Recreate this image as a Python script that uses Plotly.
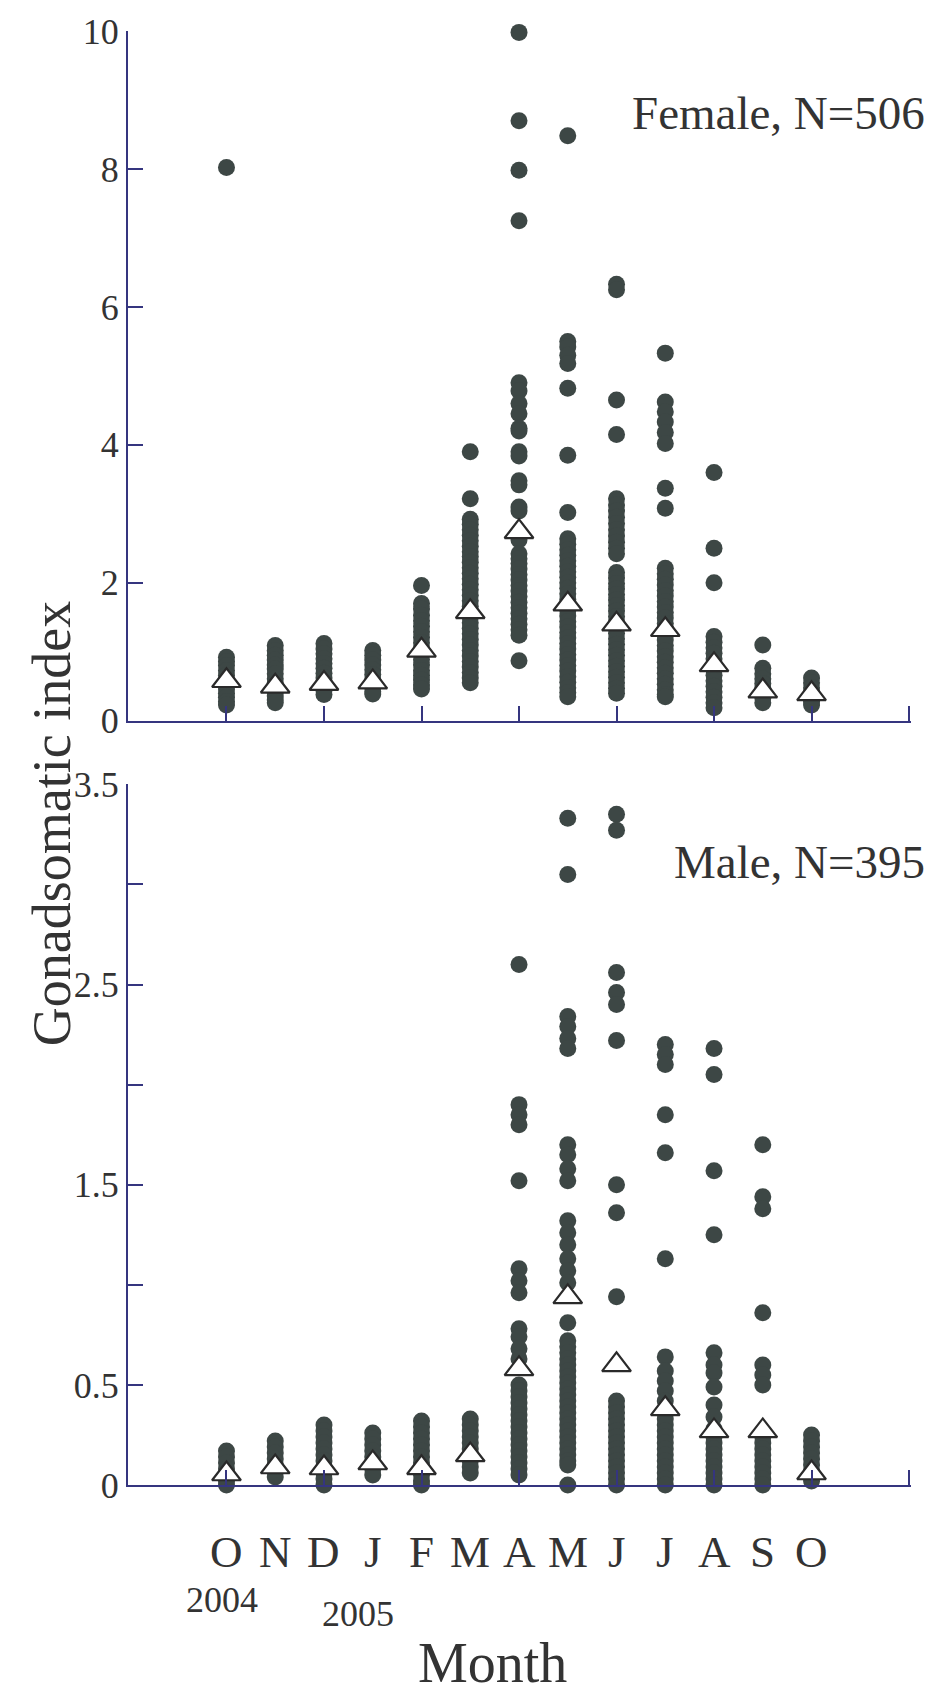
import plotly.graph_objects as go

# ---------------- data ----------------
month_letters = ["O", "N", "D", "J", "F", "M", "A", "M", "J", "J", "A", "S", "O"]
year_labels = ["2004", "2005"]
year_pos = [-0.1, 2.7]

# Female GSI per month (Oct 2004 .. Oct 2005)
f_oct04 = [8.02, 0.92, 0.86, 0.8, 0.73, 0.66, 0.6, 0.53, 0.46, 0.4, 0.34, 0.28, 0.23]
f_nov04 = [1.09, 1.02, 0.95, 0.88, 0.81, 0.75, 0.68, 0.61, 0.55, 0.48, 0.42, 0.36, 0.3, 0.26]
f_dec04 = [1.12, 1.04, 0.97, 0.9, 0.83, 0.76, 0.69, 0.62, 0.56, 0.5, 0.44, 0.38]
f_jan05 = [1.02, 0.95, 0.88, 0.81, 0.74, 0.67, 0.6, 0.54, 0.48, 0.42, 0.39]
f_feb05 = [1.96, 1.7, 1.62, 1.53, 1.45, 1.37, 1.29, 1.21, 1.13, 1.05, 0.97, 0.89, 0.81,
           0.73, 0.66, 0.59, 0.52, 0.46]
f_mar05 = [3.9, 3.22, 2.92, 2.85, 2.77, 2.69, 2.61, 2.53, 2.45, 2.38, 2.3, 2.22, 2.14, 2.06,
           1.98, 1.9, 1.82, 1.74, 1.66, 1.58, 1.5, 1.42, 1.34, 1.26, 1.18, 1.1, 1.02, 0.94,
           0.86, 0.78, 0.7, 0.62, 0.55]
f_apr05 = [9.98, 8.7, 7.98, 7.25, 4.9, 4.78, 4.6, 4.45, 4.24, 4.2, 3.9, 3.84, 3.48, 3.42,
           3.1, 3.04, 2.62, 2.42, 2.35, 2.28, 2.2, 2.12, 2.04, 1.96, 1.88, 1.8, 1.72, 1.64,
           1.56, 1.48, 1.4, 1.32, 1.24, 0.87]
f_may05 = [8.48, 5.5, 5.42, 5.3, 5.18, 4.82, 3.85, 3.02, 2.64, 2.56, 2.48, 2.4, 2.32, 2.24,
           2.16, 2.08, 2.0, 1.92, 1.84, 1.76, 1.68, 1.6, 1.52, 1.44, 1.36, 1.28, 1.2, 1.12,
           1.04, 0.96, 0.88, 0.8, 0.72, 0.64, 0.56, 0.48, 0.41, 0.35]
f_jun05 = [6.33, 6.25, 4.65, 4.15, 3.22, 3.13, 3.04, 2.95, 2.86, 2.77, 2.68, 2.59, 2.5, 2.42,
           2.15, 2.07, 1.99, 1.91, 1.83, 1.75, 1.67, 1.59, 1.51, 1.43, 1.35, 1.27, 1.19,
           1.11, 1.03, 0.95, 0.87, 0.79, 0.71, 0.63, 0.55, 0.47, 0.4]
f_jul05 = [5.33, 4.62, 4.48, 4.33, 4.18, 4.02, 3.37, 3.08, 2.21, 2.13, 2.05, 1.97, 1.89,
           1.81, 1.73, 1.65, 1.57, 1.49, 1.41, 1.33, 1.25, 1.17, 1.09, 1.01, 0.93, 0.85,
           0.77, 0.69, 0.61, 0.53, 0.45, 0.38, 0.35]
f_aug05 = [3.6, 2.5, 2.0, 1.22, 1.14, 1.06, 0.98, 0.9, 0.82, 0.74, 0.66, 0.58, 0.5, 0.42,
           0.34, 0.26, 0.19]
f_sep05 = [1.1, 0.76, 0.68, 0.61, 0.54, 0.47, 0.4, 0.33, 0.26]
f_oct05 = [0.62, 0.55, 0.48, 0.41, 0.34, 0.28, 0.23]
f_means = [0.58, 0.5, 0.54, 0.56, 1.02, 1.58, 2.74, 1.69, 1.4, 1.32, 0.81, 0.43, 0.39]

# Male GSI per month
m_oct04 = [0.17, 0.14, 0.11, 0.08, 0.05, 0.02, 0.0]
m_nov04 = [0.22, 0.19, 0.16, 0.13, 0.1, 0.07, 0.04]
m_dec04 = [0.3, 0.27, 0.24, 0.21, 0.18, 0.15, 0.12, 0.09, 0.06, 0.03, 0.0]
m_jan05 = [0.26, 0.23, 0.2, 0.17, 0.14, 0.11, 0.08, 0.05]
m_feb05 = [0.32, 0.29, 0.26, 0.23, 0.2, 0.17, 0.14, 0.11, 0.08, 0.05, 0.02, 0.0]
m_mar05 = [0.33, 0.3, 0.27, 0.24, 0.21, 0.18, 0.15, 0.12, 0.09, 0.06]
m_apr05 = [2.6, 1.9, 1.85, 1.8, 1.52, 1.08, 1.02, 0.96, 0.78, 0.74, 0.68, 0.63, 0.5, 0.47,
           0.44, 0.41, 0.38, 0.35, 0.32, 0.29, 0.26, 0.23, 0.2, 0.17, 0.14, 0.11, 0.08, 0.05]
m_may05 = [3.33, 3.05, 2.34, 2.29, 2.23, 2.18, 1.7, 1.65, 1.58, 1.52, 1.32, 1.26, 1.2, 1.13,
           1.07, 1.01, 0.81, 0.72, 0.69, 0.66, 0.63, 0.6, 0.57, 0.54, 0.51, 0.48, 0.45, 0.42,
           0.39, 0.36, 0.33, 0.3, 0.27, 0.24, 0.21, 0.18, 0.15, 0.12, 0.1, 0.0]
m_jun05 = [3.35, 3.27, 2.56, 2.46, 2.4, 2.22, 1.5, 1.36, 0.94, 0.42, 0.39, 0.36, 0.33, 0.3,
           0.27, 0.24, 0.21, 0.18, 0.15, 0.12, 0.09, 0.06, 0.03, 0.0]
m_jul05 = [2.2, 2.15, 2.1, 1.85, 1.66, 1.13, 0.64, 0.57, 0.52, 0.47, 0.42, 0.36, 0.33, 0.3,
           0.27, 0.24, 0.21, 0.18, 0.15, 0.12, 0.09, 0.06, 0.03, 0.0]
m_aug05 = [2.18, 2.05, 1.57, 1.25, 0.66, 0.6, 0.56, 0.49, 0.4, 0.34, 0.28, 0.24, 0.21, 0.18,
           0.15, 0.12, 0.09, 0.06, 0.03, 0.0]
m_sep05 = [1.7, 1.44, 1.38, 0.86, 0.6, 0.55, 0.5, 0.24, 0.21, 0.18, 0.15, 0.12, 0.09, 0.06,
           0.03, 0.0]
m_oct05 = [0.25, 0.22, 0.19, 0.16, 0.13, 0.1, 0.07, 0.04, 0.02]
m_means = [0.055, 0.09, 0.085, 0.11, 0.086, 0.15, 0.58, 0.94, 0.6, 0.38, 0.27, 0.27, 0.06]

female_months = [f_oct04, f_nov04, f_dec04, f_jan05, f_feb05, f_mar05, f_apr05,
                 f_may05, f_jun05, f_jul05, f_aug05, f_sep05, f_oct05]
male_months = [m_oct04, m_nov04, m_dec04, m_jan05, m_feb05, m_mar05, m_apr05,
               m_may05, m_jun05, m_jul05, m_aug05, m_sep05, m_oct05]

female_label = "Female, N=506"
male_label = "Male, N=395"

# ---------------- styling ----------------
FONT = "Liberation Serif, Times New Roman, serif"
DOT = "#3d4745"
AXIS = "#35357f"
TXT = "#333333"


def flatten(groups):
    xs, ys = [], []
    for i, vals in enumerate(groups):
        xs += [i] * len(vals)
        ys += list(vals)
    return xs, ys


fig = go.Figure()
for groups, means, xa, ya in [(female_months, f_means, "x", "y"),
                              (male_months, m_means, "x2", "y2")]:
    xs, ys = flatten(groups)
    fig.add_trace(go.Scatter(x=xs, y=ys, mode="markers", xaxis=xa, yaxis=ya,
                             marker=dict(symbol="circle", size=17, color=DOT,
                                         line=dict(width=0)),
                             cliponaxis=False, showlegend=False))
    fig.add_trace(go.Scatter(x=list(range(len(means))), y=means, mode="markers",
                             xaxis=xa, yaxis=ya,
                             marker=dict(symbol="triangle-up", size=25, color="white",
                                         line=dict(width=2.2, color="#2a2a2a")),
                             cliponaxis=False, showlegend=False))

axis_common = dict(showline=True, linecolor=AXIS, linewidth=2, ticks="inside",
                   ticklen=15, tickwidth=2, tickcolor=AXIS, showgrid=False,
                   zeroline=False, tickfont=dict(family=FONT, size=36, color=TXT))

xr = [-2.02, 14.04]
xt = [0, 2, 4, 6, 8, 10, 12, 14]
fig.update_layout(
    width=931, height=1699,
    margin=dict(l=128, r=20, t=22, b=214),
    paper_bgcolor="white", plot_bgcolor="white",
    xaxis=dict(axis_common, domain=[0, 1], range=xr, tickvals=xt,
               showticklabels=False, anchor="y"),
    yaxis=dict(axis_common, domain=[0.5256, 1], range=[0, 10],
               tickvals=[0, 2, 4, 6, 8, 10], anchor="x"),
    xaxis2=dict(axis_common, domain=[0, 1], range=xr, tickvals=xt,
                showticklabels=False, anchor="y2"),
    yaxis2=dict(axis_common, domain=[0, 0.4819], range=[0, 3.5],
                tickvals=[0, 0.5, 1, 1.5, 2, 2.5, 3, 3.5],
                ticktext=["0", "0.5", "", "1.5", "", "2.5", "", "3.5"], anchor="x2"),
)

ann = []
ann.append(dict(text=female_label, xref="paper", yref="paper", x=1.02, y=0.9435,
                xanchor="right", yanchor="middle", showarrow=False,
                font=dict(family=FONT, size=47, color=TXT)))
ann.append(dict(text=male_label, xref="paper", yref="paper", x=1.02, y=0.4285,
                xanchor="right", yanchor="middle", showarrow=False,
                font=dict(family=FONT, size=47, color=TXT)))
for i, m in enumerate(month_letters):
    ann.append(dict(text=m, xref="x2", yref="paper", x=i, y=-0.0458,
                    xanchor="center", yanchor="middle", showarrow=False,
                    font=dict(family=FONT, size=45, color=TXT)))
for lab, pos, yy in zip(year_labels, year_pos, [-0.0793, -0.0889]):
    ann.append(dict(text=lab, xref="x2", yref="paper", x=pos, y=yy,
                    xanchor="center", yanchor="middle", showarrow=False,
                    font=dict(family=FONT, size=36, color=TXT)))
ann.append(dict(text="Month", xref="paper", yref="paper", x=0.466, y=-0.1225,
                xanchor="center", yanchor="middle", showarrow=False,
                font=dict(family=FONT, size=56, color=TXT)))
ann.append(dict(text="Gonadsomatic index", xref="paper", yref="paper", x=-0.097, y=0.4545,
                xanchor="center", yanchor="middle", showarrow=False, textangle=-90,
                font=dict(family=FONT, size=54, color=TXT)))
fig.update_layout(annotations=ann)

fig.write_html("out.html")
